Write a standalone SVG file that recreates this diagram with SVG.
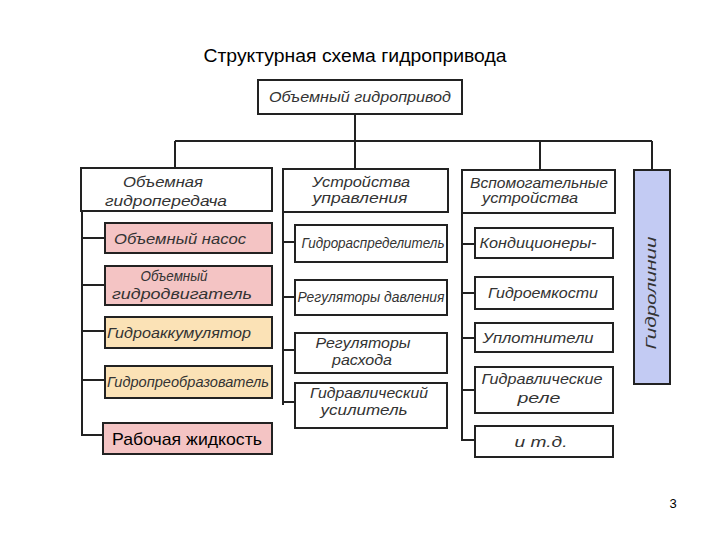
<svg xmlns="http://www.w3.org/2000/svg" width="720" height="540" viewBox="0 0 720 540">
<style>
.bx{stroke:#222;stroke-width:2;fill:#fff}
.pk{fill:#f4c4c4}
.or{fill:#fbe2b6}
.bl{fill:#c3cbf3}
.ln{stroke:#222;stroke-width:2;fill:none}
.t{font-family:"Liberation Sans",Arial,sans-serif;font-style:italic;font-size:14.5px;fill:#333;text-anchor:middle;dominant-baseline:central}
.title{font-family:"Liberation Sans",Arial,sans-serif;font-size:17.5px;fill:#000;text-anchor:middle}
</style>
<rect width="720" height="540" fill="#fff"/>
<text class="title" x="355" y="62" textLength="303" lengthAdjust="spacingAndGlyphs">Структурная схема гидропривода</text>

<g id="connectors">
<path class="ln" d="M355 114V141M175 141H652M175 141V168M355 141V169M540 141V170M652 141V170"/>
<path class="ln" d="M82 211V435H103M82 238H105M82 285H105M82 331H105M82 380H105"/>
<path class="ln" d="M283 212V405M283 242H295M283 297H295M283 350H295M283 402H295"/>
<path class="ln" d="M462 213V440H475M462 244H475M462 293H475M462 338H475M462 390H475"/>
</g>

<g id="n-root"><rect class="bx" x="258" y="80" width="204" height="34"/><text class="t" x="360" y="97" textLength="182" lengthAdjust="spacingAndGlyphs">Объемный гидропривод</text></g>

<g id="n-gidroperedacha"><rect class="bx" x="81" y="168" width="191" height="43"/><text class="t" x="163" y="182" textLength="80" lengthAdjust="spacingAndGlyphs">Объемная</text><text class="t" x="166" y="201" textLength="122" lengthAdjust="spacingAndGlyphs">гидропередача</text></g>
<g id="n-nasos"><rect class="bx pk" x="105" y="223" width="167" height="30"/><text class="t" x="180" y="239" textLength="132" lengthAdjust="spacingAndGlyphs">Объемный насос</text></g>
<g id="n-dvigatel"><rect class="bx pk" x="105" y="266" width="167" height="39"/><text class="t" x="174" y="276" textLength="67" lengthAdjust="spacingAndGlyphs">Объемный</text><text class="t" x="182" y="294" textLength="140" lengthAdjust="spacingAndGlyphs">гидродвигатель</text></g>
<g id="n-akkum"><rect class="bx or" x="105" y="317" width="167" height="31"/><text class="t" x="179" y="333" textLength="144" lengthAdjust="spacingAndGlyphs">Гидроаккумулятор</text></g>
<g id="n-preobr"><rect class="bx or" x="105" y="366" width="167" height="32"/><text class="t" x="188" y="382" textLength="162" lengthAdjust="spacingAndGlyphs">Гидропреобразователь</text></g>
<g id="n-zhidkost"><rect class="bx pk" x="103" y="423" width="169" height="31" stroke-width="2.5"/><text x="187" y="445" font-family="Liberation Sans, Arial, sans-serif" font-size="17" fill="#000" text-anchor="middle" textLength="150" lengthAdjust="spacingAndGlyphs">Рабочая жидкость</text></g>

<g id="n-upravlenie"><rect class="bx" x="283" y="169" width="165" height="43"/><text class="t" x="361" y="182" textLength="98" lengthAdjust="spacingAndGlyphs">Устройства</text><text class="t" x="360" y="198" textLength="95" lengthAdjust="spacingAndGlyphs">управления</text></g>
<g id="n-raspred"><rect class="bx" x="295" y="225" width="152" height="37"/><text class="t" x="373" y="243" textLength="143" lengthAdjust="spacingAndGlyphs">Гидрораспределитель</text></g>
<g id="n-reg-davl"><rect class="bx" x="295" y="280" width="152" height="35"/><text class="t" x="371" y="297" textLength="147" lengthAdjust="spacingAndGlyphs">Регуляторы давления</text></g>
<g id="n-reg-rash"><rect class="bx" x="295" y="333" width="152" height="40"/><text class="t" x="363" y="343" textLength="95" lengthAdjust="spacingAndGlyphs">Регуляторы</text><text class="t" x="362" y="360" textLength="60" lengthAdjust="spacingAndGlyphs">расхода</text></g>
<g id="n-usilitel"><rect class="bx" x="295" y="383" width="152" height="45"/><text class="t" x="369" y="393" textLength="118" lengthAdjust="spacingAndGlyphs">Гидравлический</text><text class="t" x="364" y="410" textLength="87" lengthAdjust="spacingAndGlyphs">усилитель</text></g>

<g id="n-vspomog"><rect class="bx" x="462" y="170" width="153" height="43"/><text class="t" x="539" y="183" textLength="138" lengthAdjust="spacingAndGlyphs">Вспомогательные</text><text class="t" x="530" y="198" textLength="96" lengthAdjust="spacingAndGlyphs">устройства</text></g>
<g id="n-kondic"><rect class="bx" x="475" y="228" width="138" height="30"/><text class="t" x="538" y="243" textLength="117" lengthAdjust="spacingAndGlyphs">Кондиционеры-</text></g>
<g id="n-emkosti"><rect class="bx" x="475" y="277" width="138" height="32"/><text class="t" x="543" y="293" textLength="110" lengthAdjust="spacingAndGlyphs">Гидроемкости</text></g>
<g id="n-uplotn"><rect class="bx" x="475" y="323" width="138" height="29"/><text class="t" x="538" y="338" textLength="111" lengthAdjust="spacingAndGlyphs">Уплотнители</text></g>
<g id="n-rele"><rect class="bx" x="475" y="367" width="138" height="46"/><text class="t" x="542" y="379" textLength="121" lengthAdjust="spacingAndGlyphs">Гидравлические</text><text class="t" x="539" y="398" textLength="43" lengthAdjust="spacingAndGlyphs">реле</text></g>
<g id="n-itd"><rect class="bx" x="475" y="426" width="138" height="31"/><text class="t" x="541" y="442" textLength="53" lengthAdjust="spacingAndGlyphs">и т.д.</text></g>

<g id="n-gidrolinii"><rect class="bx bl" x="634" y="170" width="36" height="214" stroke-width="2.5"/><text class="t" transform="translate(651 293) rotate(-90)" x="0" y="0" textLength="113" lengthAdjust="spacingAndGlyphs">Гидролинии</text></g>

<text x="673" y="508" font-family="Liberation Sans, Arial, sans-serif" font-size="13" fill="#000" text-anchor="middle">3</text>
</svg>
